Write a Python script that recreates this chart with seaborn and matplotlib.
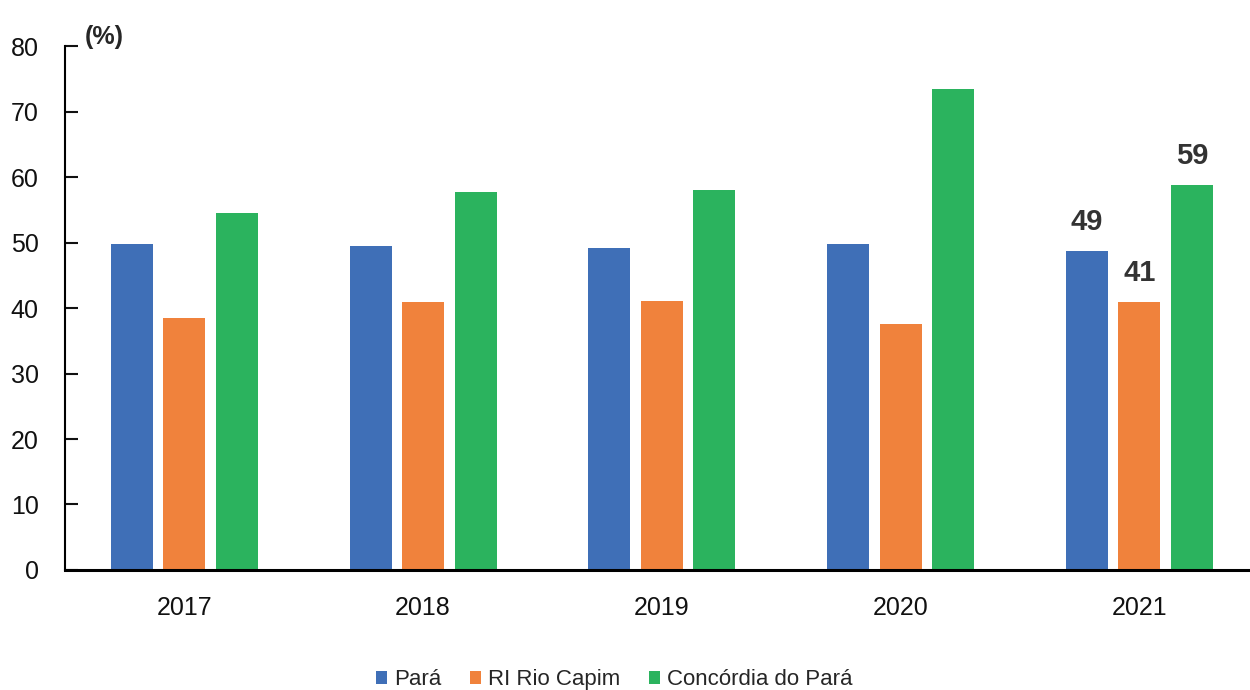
import pandas as pd
import matplotlib.pyplot as plt
import seaborn as sns

# --- DATA ---
YEARS = ['2017', '2018', '2019', '2020', '2021']
SERIES = ['Pará', 'RI Rio Capim', 'Concórdia do Pará']
PARA = [49.8, 49.5, 49.2, 49.8, 48.7]
RIO_CAPIM = [38.5, 40.9, 41.1, 37.6, 40.9]
CONCORDIA = [54.5, 57.7, 58.0, 73.4, 58.8]
COLORS = ['#3F6FB7', '#F0823C', '#2BB35E']


def generate_plot():
    df = pd.DataFrame({
        'Ano': YEARS * 3,
        'Serie': [SERIES[0]] * 5 + [SERIES[1]] * 5 + [SERIES[2]] * 5,
        'Valor': PARA + RIO_CAPIM + CONCORDIA,
    })

    sns.set_style('white')
    plt.rcParams['font.family'] = ['Liberation Sans', 'DejaVu Sans']

    fig = plt.figure(figsize=(12.5, 6.9), dpi=100)
    ax = fig.add_axes([0.052, 0.174, 0.955, 0.759])

    sns.barplot(data=df, x='Ano', y='Valor', hue='Serie', hue_order=SERIES,
                palette=COLORS, width=0.66, gap=0.2, saturation=1,
                edgecolor='none', ax=ax)

    ax.set_ylim(0, 80)
    ax.set_xlim(-0.5, 4.5)
    ax.set_yticks(range(0, 81, 10))
    ax.set_xlabel('')
    ax.set_ylabel('')
    ax.tick_params(axis='y', left=True, direction='in', length=9, width=1.5,
                   labelsize=18, pad=19, colors='#111111')
    ax.tick_params(axis='x', bottom=False, labelsize=18, pad=15, colors='#111111')
    for side in ['top', 'right']:
        ax.spines[side].set_visible(False)
    for side in ['left', 'bottom']:
        ax.spines[side].set_color('#000000')
    ax.spines['left'].set_linewidth(1.5)
    ax.spines['bottom'].set_linewidth(2.2)

    # labels on the 2021 bars
    last = [PARA[-1], RIO_CAPIM[-1], CONCORDIA[-1]]
    for container, v in zip(ax.containers, last):
        bar = container.patches[-1]
        ax.text(bar.get_x() + bar.get_width() / 2, v + 2.3, f'{round(v):.0f}',
                ha='center', va='bottom', fontsize=21, fontweight='bold', color='#333333')

    fig.text(0.068, 0.947, '(%)', fontsize=18, fontweight='bold', ha='left', va='center')

    ax.legend(loc='center', bbox_to_anchor=(0.46, -0.21), ncol=3, frameon=False,
              fontsize=16, handlelength=0.5, handleheight=0.5, handletextpad=0.3,
              columnspacing=1.3)

    fig.savefig('out.png', dpi=100)


if __name__ == "__main__":
    generate_plot()
